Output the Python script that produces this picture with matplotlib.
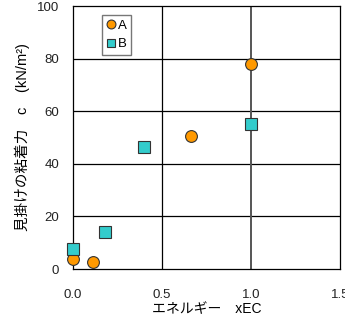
import numpy as np
import matplotlib
matplotlib.use('Agg')
import matplotlib.pyplot as plt

plt.rcParams['font.family'] = ['Liberation Sans', 'Noto Sans CJK JP', 'DejaVu Sans']

# 試料A, B のエネルギーと見掛けの粘着力
a_x = [0.0, 0.115, 0.665, 1.0]
a_c = [3.8, 2.5, 50.4, 77.9]
b_x = [0.0, 0.182, 0.40, 1.0]
b_c = [7.5, 13.9, 46.5, 55.1]

xticks = [0.0, 0.5, 1.0, 1.5]
xticklabels = ['0.0', '0.5', '1.0', '1.5']
yticks = [0, 20, 40, 60, 80, 100]

fig = plt.figure(figsize=(3.45, 3.23), dpi=100)
ax = fig.add_axes([0.2116, 0.167, 0.7739, 0.8144])
ax.set_xlim(0, 1.5)
ax.set_ylim(0, 100)

ax.set_xticks(xticks)
ax.set_xticklabels(xticklabels)
ax.set_yticks(yticks)
ax.tick_params(length=0, labelsize=9.5, colors='#222222')
ax.tick_params(axis='x', pad=14)
ax.tick_params(axis='y', pad=10)

for y in yticks[1:-1]:
    ax.axhline(y, color='black', lw=0.9, zorder=1)
ax.axvline(0.5, color='black', lw=0.9, zorder=1)
ax.axvline(1.0, color='#555555', lw=1.4, zorder=1)

ax.plot(a_x, a_c, 'o', ms=8.5, mfc='#FF9900', mec='#333333', mew=0.8,
        label='A', clip_on=False, zorder=3)
ax.plot(b_x, b_c, 's', ms=8.5, mfc='#33CCCC', mec='#333333', mew=0.8,
        label='B', clip_on=False, zorder=3)

for s in ax.spines.values():
    s.set_linewidth(0.9)

leg = ax.legend(loc='upper left', bbox_to_anchor=(0.11, 0.965), fontsize=9.5,
                handlelength=0.6, handletextpad=0.2, borderpad=0.35,
                labelspacing=0.45, markerscale=0.75, fancybox=False,
                framealpha=1, borderaxespad=0)
leg.get_frame().set_edgecolor('#777777')
leg.get_frame().set_linewidth(1.0)

ax.set_xlabel('エネルギー　xEC', fontsize=10, labelpad=1)
ax.set_ylabel('見掛けの粘着力　c　(kN/m²)', fontsize=10.5, labelpad=5)

fig.savefig('out.png', dpi=100)
